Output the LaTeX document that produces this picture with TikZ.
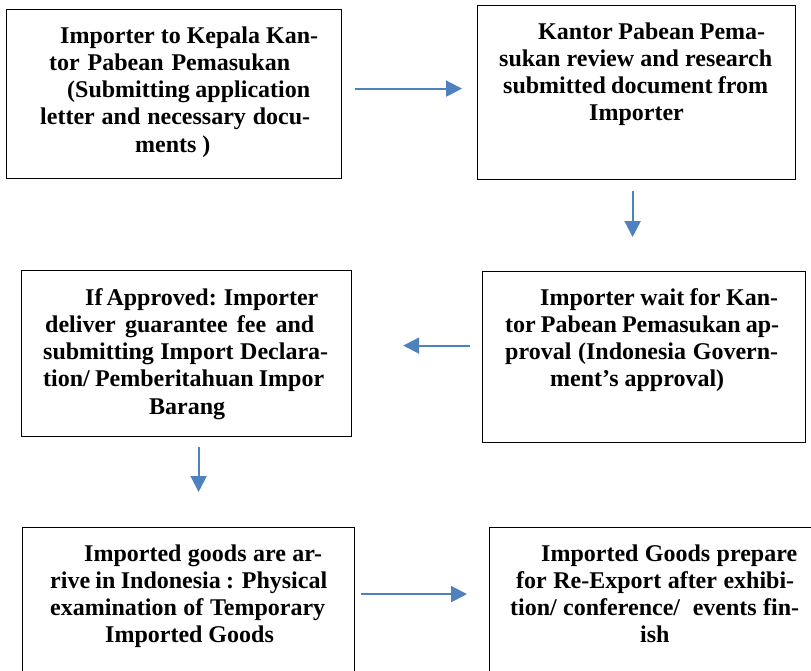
\documentclass[tikz,border=0pt]{standalone}
\usepackage{fontspec}
\setmainfont{Liberation Serif}
\usetikzlibrary{arrows.meta}
\definecolor{arrblue}{HTML}{4F81BD}
\newcommand{\jl}[3]{\hspace*{#1pt}\makebox[#2pt][s]{#3}}
\newcommand{\pl}[2]{\hspace*{#1pt}#2}
\tikzset{
  box/.style={draw=black, line width=1.2pt, fill=none, inner sep=0pt, anchor=north west},
  txt/.style={align=left, inner sep=0pt, anchor=base west, font=\fontsize{24}{27.25}\selectfont\bfseries},
  arr/.style={draw=arrblue, line width=2pt, -{Triangle[length=16pt,width=16pt]}}
}
\begin{document}
\begin{tikzpicture}[x=1pt,y=-1pt]
\useasboundingbox (0,0) rectangle (811,670);
\clip (0,0) rectangle (811,670);
% boxes
\node[box, minimum width=335pt, minimum height=169pt] (b1) at (6,9) {};
\node[box, minimum width=318pt, minimum height=174pt] (b2) at (477,5) {};
\node[box, minimum width=323pt, minimum height=171pt] (b3) at (482,271) {};
\node[box, minimum width=330pt, minimum height=166pt] (b4) at (21,270) {};
\node[box, minimum width=332pt, minimum height=163pt] (b5) at (22,527) {};
\node[box, minimum width=331pt, minimum height=163pt] (b6) at (489,527) {};
% texts
\node[txt] (t1) at (0,152) {\jl{60}{258}{Importer to Kepala Kan-}\\\jl{49}{241}{tor Pabean Pemasukan}\\\jl{67}{243}{(Submitting application}\\\jl{40}{270}{letter and necessary docu-}\\\pl{135}{ments )}};
\node[txt] (t2) at (0,120.75) {\jl{538}{227}{Kantor Pabean Pema-}\\\jl{499}{273}{sukan review and research}\\\jl{503}{265}{submitted document from}\\\pl{589}{Importer}};
\node[txt] (t3) at (0,386.75) {\jl{540}{238}{Importer wait for Kan-}\\\jl{505}{274}{tor Pabean Pemasukan ap-}\\\jl{505}{273}{proval (Indonesia Govern-}\\\pl{550}{ment’s approval)}};
\node[txt] (t4) at (0,414) {\jl{85}{230}{If Approved: Importer}\\\jl{45}{269}{deliver guarantee fee and}\\\jl{43}{285}{submitting Import Declara-}\\\jl{43}{281}{tion/ Pemberitahuan Impor}\\\pl{149}{Barang}};
\node[txt] (t5) at (0,642.75) {\jl{84}{238}{Imported goods are ar-}\\\jl{50}{277}{rive in Indonesia : Physical}\\\jl{50}{275}{examination of Temporary}\\\pl{105}{Imported Goods}};
\node[txt] (t6) at (0,642.75) {\jl{541}{256}{Imported Goods prepare}\\\jl{516}{278}{for Re-Export after exhibi-}\\\jl{510}{289}{tion/ conference/\ \ events fin-}\\\pl{640}{ish}};
% connectors
\draw[arr] ([xshift=13pt,yshift=5.5pt]b1.east) -- ([xshift=-15pt,yshift=4pt]b2.west);
\draw[arr] ([xshift=-4pt,yshift=-11pt]b2.south) -- ([xshift=-11.5pt,yshift=34pt]b3.north);
\draw[arr] ([xshift=-12pt,yshift=11.5pt]b3.west) -- ([xshift=51pt,yshift=8pt]b4.east);
\draw[arr] ([xshift=12pt,yshift=-10pt]b4.south) -- ([xshift=10pt,yshift=35pt]b5.north);
\draw[arr] ([xshift=6pt,yshift=15pt]b5.east) -- ([xshift=-22pt,yshift=15pt]b6.west);
\end{tikzpicture}
\end{document}
